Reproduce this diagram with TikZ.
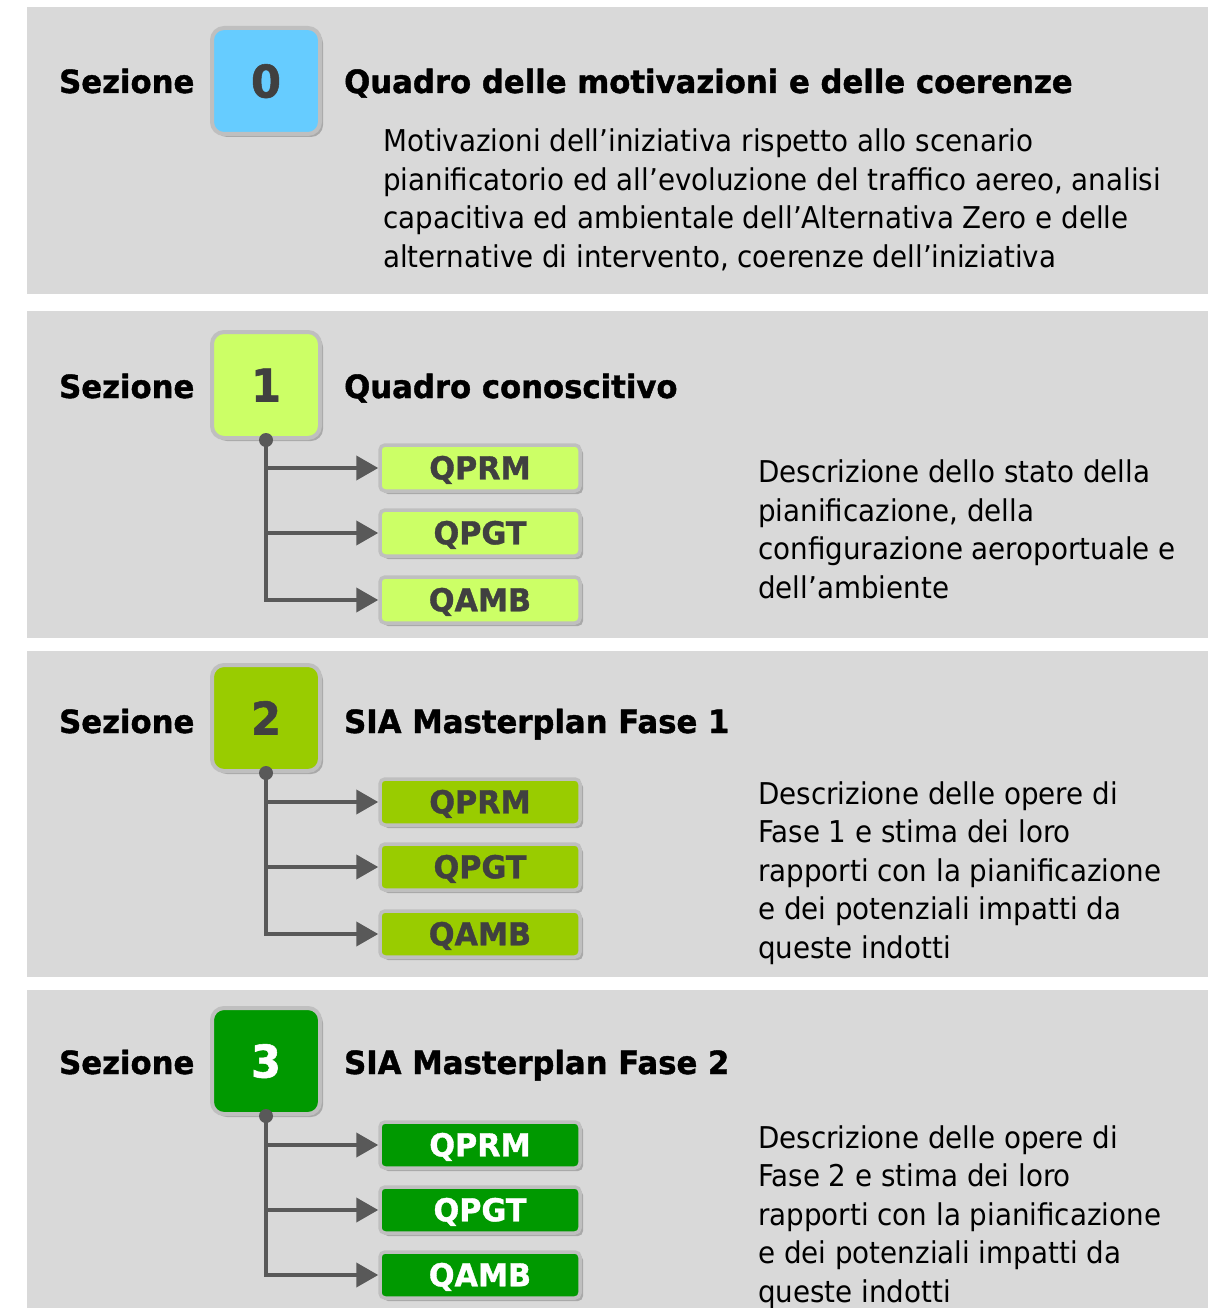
\documentclass[tikz,border=0pt]{standalone}
\usepackage{fontspec}
\setmainfont{DejaVu Sans}[BoldFeatures={FakeStretch=0.96,FakeBold=1.2}]
\newfontfamily\bodyfont[FakeStretch=0.925]{DejaVu Sans}
\usetikzlibrary{shadows,arrows.meta}
\definecolor{panelgray}{HTML}{D9D9D9}
\definecolor{bordergray}{HTML}{BFBFBF}
\definecolor{linegray}{HTML}{595959}
\definecolor{darktext}{HTML}{404040}
\definecolor{cblue}{HTML}{66CCFF}
\definecolor{clime}{HTML}{CCFF66}
\definecolor{cgreen}{HTML}{99CC00}
\definecolor{cdark}{HTML}{009900}
\tikzset{
  panel/.style={fill=panelgray, draw=none},
  numbox/.style={rounded corners=12pt, draw=bordergray, line width=4pt,
    minimum width=108pt, minimum height=106pt, inner sep=0pt,
    text height=33pt, text depth=0pt,
    font=\fontsize{45}{45}\selectfont\bfseries, text=darktext,
    drop shadow={shadow xshift=3pt, shadow yshift=-3pt, fill=black, opacity=0.22}},
  qbox/.style={rounded corners=5pt, draw=bordergray, line width=3.5pt,
    minimum width=200pt, minimum height=46pt, inner sep=0pt,
    text height=22.5pt, text depth=0pt,
    font=\fontsize{31.5}{31.5}\selectfont\bfseries, text=darktext,
    drop shadow={shadow xshift=3pt, shadow yshift=-3pt, fill=black, opacity=0.22}},
  sez/.style={anchor=base west, inner sep=0pt, font=\fontsize{32}{32}\selectfont\bfseries},
  ttl/.style={anchor=base west, inner sep=0pt, font=\fontsize{32}{32}\selectfont\bfseries},
  desc/.style={anchor=north west, inner sep=0pt, align=left,
    font=\bodyfont\fontsize{30}{38.5}\selectfont},
  dot/.style={circle, fill=linegray, inner sep=0pt, minimum size=14pt},
  conn/.style={draw=linegray, line width=4pt, -{Triangle[length=22pt,width=24pt]}}
}
\begin{document}
\begin{tikzpicture}[x=1pt,y=-1pt]
\useasboundingbox (0,0) rectangle (1208,1308);
\clip (0,0) rectangle (1208,1308);
% panels
\fill[panel] (27,7) rectangle (1208,294);
\fill[panel] (27,311) rectangle (1208,638);
\fill[panel] (27,651) rectangle (1208,977);
\fill[panel] (27,990) rectangle (1208,1310);

% ---------------- Section 0
\node[sez] (s0) at (59,93) {Sezione};
\node[numbox, fill=cblue] (n0) at (266,81) {0};
\node[ttl] (t0) at (344,93) {Quadro delle motivazioni e delle coerenze};
\node[desc] (d0) at (383,129) {Motivazioni dell’iniziativa rispetto allo scenario\\
pianificatorio ed all’evoluzione del traffico aereo, analisi\\
capacitiva ed ambientale dell’Alternativa Zero e delle\\
alternative di intervento, coerenze dell’iniziativa};

% ---------------- Section 1
\node[sez] (s1) at (59,398) {Sezione};
\node[numbox, fill=clime] (n1) at (266,385) {1};
\node[ttl] (t1) at (344,398) {Quadro conoscitivo};
\node[qbox, fill=clime] (q1a) at (480,468) {QPRM};
\node[qbox, fill=clime] (q1b) at (480,533) {QPGT};
\node[qbox, fill=clime] (q1c) at (480,600) {QAMB};
\node[dot] (p1) at (n1.south) {};
\draw[conn] (p1.center) |- (q1a.west);
\draw[conn] (p1.center) |- (q1b.west);
\draw[conn] (p1.center) |- (q1c.west);
\node[desc] (d1) at (758,460) {Descrizione dello stato della\\
pianificazione, della\\
configurazione aeroportuale e\\
dell’ambiente};

% ---------------- Section 2
\node[sez] (s2) at (59,733) {Sezione};
\node[numbox, fill=cgreen] (n2) at (266,718) {2};
\node[ttl] (t2) at (344,733) {SIA Masterplan Fase 1};
\node[qbox, fill=cgreen] (q2a) at (480,802) {QPRM};
\node[qbox, fill=cgreen] (q2b) at (480,867) {QPGT};
\node[qbox, fill=cgreen] (q2c) at (480,934) {QAMB};
\node[dot] (p2) at (n2.south) {};
\draw[conn] (p2.center) |- (q2a.west);
\draw[conn] (p2.center) |- (q2b.west);
\draw[conn] (p2.center) |- (q2c.west);
\node[desc] (d2) at (758,781) {Descrizione delle opere di\\
Fase 1 e stima dei loro\\
rapporti con la pianificazione\\
e dei potenziali impatti da\\
queste indotti};

% ---------------- Section 3
\node[sez] (s3) at (59,1074) {Sezione};
\node[numbox, fill=cdark, text=white] (n3) at (266,1061) {3};
\node[ttl] (t3) at (344,1074) {SIA Masterplan Fase 2};
\node[qbox, fill=cdark, text=white] (q3a) at (480,1145) {QPRM};
\node[qbox, fill=cdark, text=white] (q3b) at (480,1210) {QPGT};
\node[qbox, fill=cdark, text=white] (q3c) at (480,1275) {QAMB};
\node[dot] (p3) at (n3.south) {};
\draw[conn] (p3.center) |- (q3a.west);
\draw[conn] (p3.center) |- (q3b.west);
\draw[conn] (p3.center) |- (q3c.west);
\node[desc] (d3) at (758,1125) {Descrizione delle opere di\\
Fase 2 e stima dei loro\\
rapporti con la pianificazione\\
e dei potenziali impatti da\\
queste indotti};
\end{tikzpicture}
\end{document}
